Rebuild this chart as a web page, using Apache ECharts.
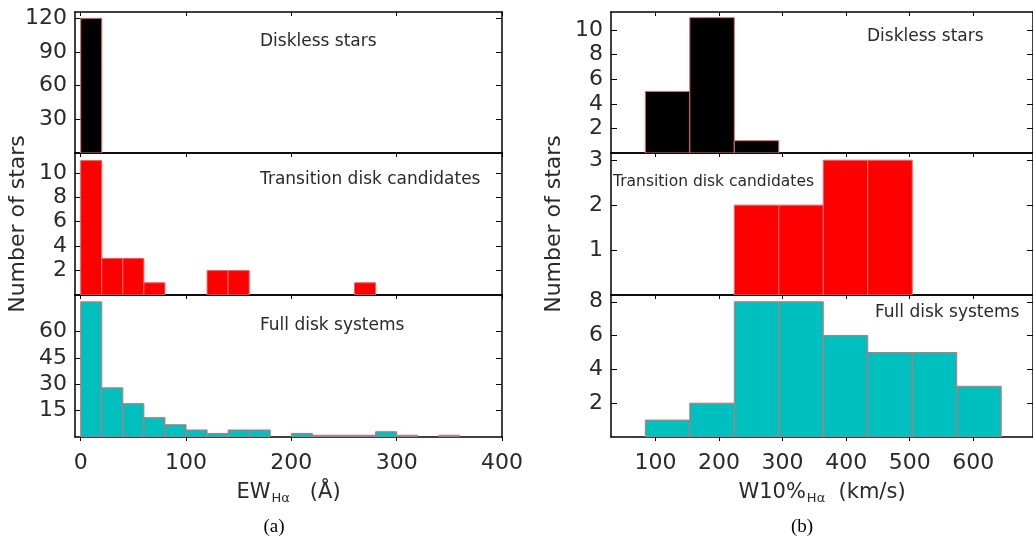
<!DOCTYPE html>
<html>
<head>
<meta charset="utf-8">
<script src="https://cdn.jsdelivr.net/npm/echarts@6/dist/echarts.min.js"></script>
<style>html,body{margin:0;padding:0;background:#fff;}#c{width:1033px;height:537px;}</style>
</head>
<body>
<div id="c"></div>
<script>
// ---- Data (a): EW Halpha histograms, bin width 20 Å ----
const ewBinStart = [0,20,40,60,80,100,120,140,160,180,200,220,240,260,280,300,320,340,360,380];
const ewBinEnd   = [20,40,60,80,100,120,140,160,180,200,220,240,260,280,300,320,340,360,380,400];
const ewDiskless   = [120,0,0,0,0,0,0,0,0,0,0,0,0,0,0,0,0,0,0,0];
const ewTransition = [11,3,3,1,0,0,2,2,0,0,0,0,0,1,0,0,0,0,0,0];
const ewFull       = [77,28,19,11,7,4,2,4,4,0,2,1,1,1,3,1,0,1,0,0];

// ---- Data (b): W10% Halpha histograms, bin width ~70 km/s ----
const wBinStart = [84,154,224,294,364,434,504,574];
const wBinEnd   = [154,224,294,364,434,504,574,644];
const wDiskless   = [5,11,1,0,0,0,0,0];
const wTransition = [0,0,2,2,3,3,0,0];
const wFull       = [1,2,8,8,6,5,5,3];

// tick labels
const ewTicks = [0,100,200,300,400];
const wTicks = [100,200,300,400,500,600];
const yTicksA = [[30,60,90,120],[2,4,6,8,10],[15,30,45,60]];
const yTicksB = [[2,4,6,8,10],[1,2,3],[2,4,6,8]];
const yMaxA = [125.6, 11.62, 80.9];
const yMaxB = [11.46, 3.16, 8.4];

const panelNames = ['Diskless stars','Transition disk candidates','Full disk systems'];
const fills = ['#000000','#ff0000','#00bfbf'];
const edge = '#dd6b6b';
const FONT = 'DejaVu Sans';
const TXT = '#2a2a2a';

const tops = [12,153,295];
const heights = [141,142,142];

const grids = [], xAxes = [], yAxes = [], series = [];

function addPanel(gi, left, width, top, height, xmin, xmax, xticks, yticks, ymax, showXLabels, starts, ends, counts, fill, xname) {
  grids.push({left:left, top:top, width:width, height:height, containLabel:false});
  const lineStyle = {color:'#000', width:1.5};
  // bottom x
  xAxes.push({
    gridIndex: gi, type:'value', position:'bottom', min:xmin, max:xmax,
    axisLine:{show:true, onZero:false, lineStyle:lineStyle},
    axisTick:{show:true, inside:false, length:4, customValues:xticks, lineStyle:{color:'#000', width:1}},
    axisLabel:{show:showXLabels, customValues:xticks, margin:15, fontFamily:FONT, fontSize:22, color:TXT},
    splitLine:{show:false},
    name: showXLabels ? xname : '', nameLocation:'middle', nameGap:43,
    nameTextStyle:{fontFamily:FONT, fontSize:21, color:TXT,
      rich:{s:{fontFamily:FONT, fontSize:13, color:TXT, padding:[12,0,0,1]}, n:{fontFamily:FONT, fontSize:21, color:TXT}}}
  });
  // top x
  xAxes.push({
    gridIndex: gi, type:'value', position:'top', min:xmin, max:xmax,
    axisLine:{show:true, onZero:false, lineStyle:lineStyle},
    axisTick:{show:true, inside:true, length:4, customValues:xticks, lineStyle:{color:'#000', width:1}},
    axisLabel:{show:false}, splitLine:{show:false}
  });
  // left y
  yAxes.push({
    gridIndex: gi, type:'value', position:'left', min:0, max:ymax,
    axisLine:{show:true, onZero:false, lineStyle:lineStyle},
    axisTick:{show:true, inside:true, length:6, customValues:yticks, lineStyle:{color:'#000', width:1}},
    axisLabel:{show:true, customValues:yticks, margin:8, fontFamily:FONT, fontSize:22, color:TXT},
    splitLine:{show:false}
  });
  // right y
  yAxes.push({
    gridIndex: gi, type:'value', position:'right', min:0, max:ymax,
    axisLine:{show:true, onZero:false, lineStyle:lineStyle},
    axisTick:{show:true, inside:true, length:6, customValues:yticks, lineStyle:{color:'#000', width:1}},
    axisLabel:{show:false}, splitLine:{show:false}
  });
  const data = starts.map((s,i)=>[s, ends[i], counts[i]]);
  series.push({
    type:'custom', xAxisIndex: 2*gi, yAxisIndex: 2*gi, clip:true, z:1,
    encode:{x:[0,1], y:2},
    data: data,
    renderItem: function(params, api){
      const v = api.value(2);
      if (!v) return null;
      const p0 = api.coord([api.value(0), 0]);
      const p1 = api.coord([api.value(1), v]);
      return {type:'rect', shape:{x:p0[0], y:p1[1], width:p1[0]-p0[0], height:p0[1]-p1[1]},
        style:{fill:fill, stroke:edge, lineWidth:1}};
    }
  });
}

const ewCounts = [ewDiskless, ewTransition, ewFull];
const wCounts = [wDiskless, wTransition, wFull];
const nameA = '{n|EW}{s|Hα}{n|   (Å)}';
const nameB = '{n|W10%}{s|Hα}{n|  (km/s)}';

for (let k=0;k<3;k++) {
  addPanel(k, 75, 427, tops[k], heights[k], -5.4, 400, ewTicks, yTicksA[k], yMaxA[k], k===2,
    ewBinStart, ewBinEnd, ewCounts[k], fills[k], nameA);
}
for (let k=0;k<3;k++) {
  addPanel(3+k, 611, 423, tops[k], heights[k], 30, 694, wTicks, yTicksB[k], yMaxB[k], k===2,
    wBinStart, wBinEnd, wCounts[k], fills[k], nameB);
}

function label(text, x, y, size, extra) {
  return Object.assign({type:'text', x:x, y:y, z:10,
    style:{text:text, fontFamily:FONT, fontSize:size, fill:TXT, textVerticalAlign:'middle', verticalAlign:'middle'}}, extra||{});
}

const graphics = [
  label(panelNames[0], 260, 42, 17),
  label(panelNames[1], 260, 180, 17),
  label(panelNames[2], 260, 326, 17),
  label(panelNames[0], 867, 37, 17),
  label(panelNames[1], 613, 182, 15.5),
  label(panelNames[2], 875, 313, 17),
  {type:'text', x:18, y:224, rotation:Math.PI/2, z:10,
    style:{text:'Number of stars', fontFamily:FONT, fontSize:22, fill:TXT, align:'center', verticalAlign:'middle'}},
  {type:'text', x:554, y:224, rotation:Math.PI/2, z:10,
    style:{text:'Number of stars', fontFamily:FONT, fontSize:22, fill:TXT, align:'center', verticalAlign:'middle'}},
  {type:'text', x:274, y:527, z:10,
    style:{text:'(a)', fontFamily:'Liberation Serif', fontSize:19, fill:'#000', align:'center', verticalAlign:'middle'}},
  {type:'text', x:802, y:527, z:10,
    style:{text:'(b)', fontFamily:'Liberation Serif', fontSize:19, fill:'#000', align:'center', verticalAlign:'middle'}}
];

const chart = echarts.init(document.getElementById('c'), null, {renderer:'canvas'});
chart.setOption({
  animation:false,
  backgroundColor:'#fff',
  grid: grids, xAxis: xAxes, yAxis: yAxes, series: series, graphic: graphics
});
</script>
</body>
</html>
